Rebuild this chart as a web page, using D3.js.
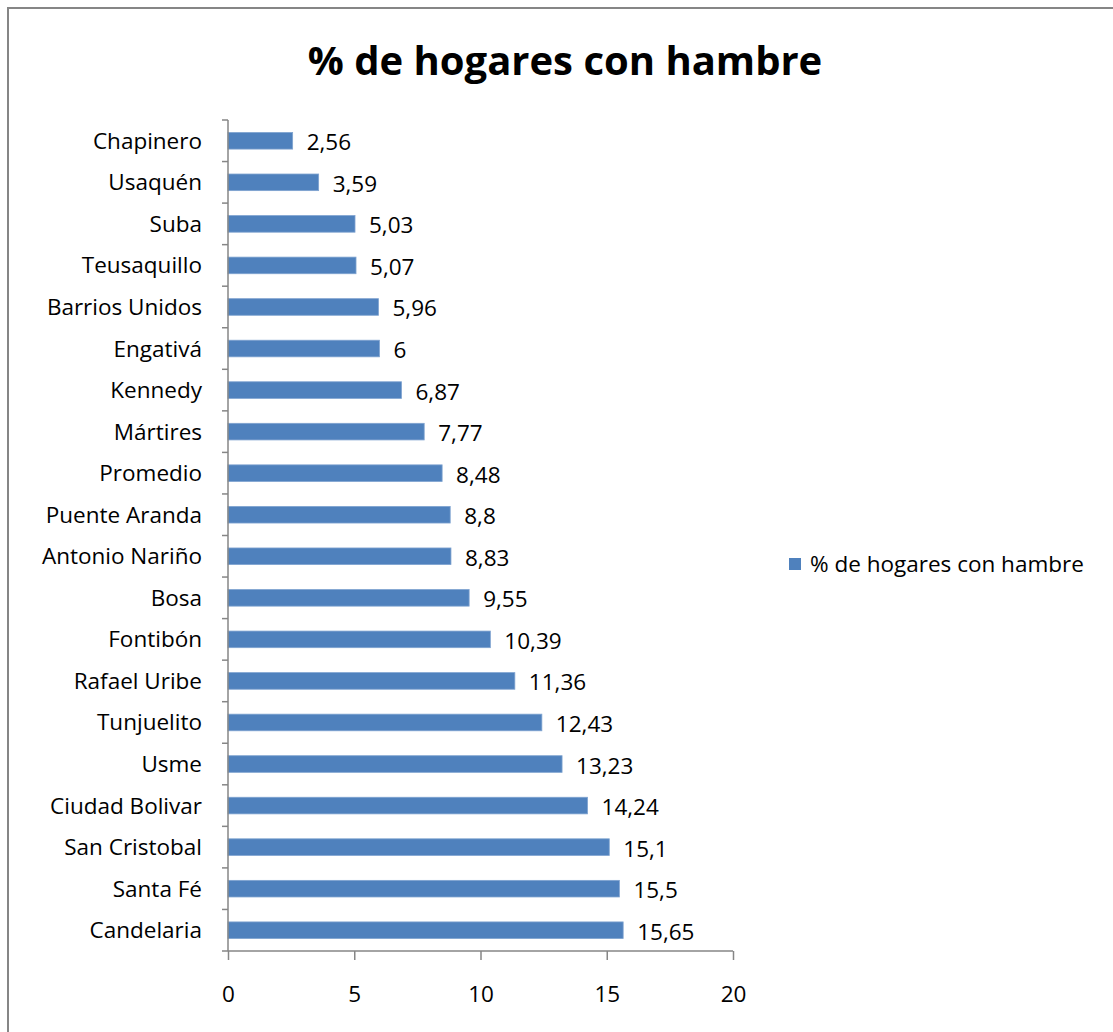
<!DOCTYPE html>
<html lang="es">
<head>
<meta charset="UTF-8">
<script src="https://d3js.org/d3.v7.min.js"></script>
<style>
  body { margin: 0; background: white; }
  svg { display: block; font-family: "Open Sans", sans-serif; }
</style>
</head>
<body>
<div id="chart"></div>
<script>
// datos
const barrios = ["Chapinero", "Usaquén", "Suba", "Teusaquillo", "Barrios Unidos", "Engativá",
  "Kennedy", "Mártires", "Promedio", "Puente Aranda", "Antonio Nariño", "Bosa", "Fontibón",
  "Rafael Uribe", "Tunjuelito", "Usme", "Ciudad Bolivar", "San Cristobal", "Santa Fé", "Candelaria"];
const valores = [2.56, 3.59, 5.03, 5.07, 5.96, 6, 6.87, 7.77, 8.48, 8.8, 8.83, 9.55, 10.39,
  11.36, 12.43, 13.23, 14.24, 15.1, 15.5, 15.65];
const ticksX = [0, 5, 10, 15, 20];
const titulo = "% de hogares con hambre";

const W = 1113, H = 1032;
const color = "#4F81BD";
const gris = "#868686";
const fs = "22.5px";

const svg = d3.select("#chart").append("svg")
  .attr("width", W).attr("height", H);

// marco
svg.append("rect")
  .attr("x", 8).attr("y", 8)
  .attr("width", W + 20).attr("height", H + 20)
  .attr("fill", "white")
  .attr("stroke", gris).attr("stroke-width", 2);

svg.append("text")
  .attr("x", 565).attr("y", 75)
  .attr("text-anchor", "middle")
  .style("font-size", "40px").style("font-weight", "bold")
  .text(titulo);

const x = d3.scaleLinear().domain([0, 20]).range([228, 733]);
const y = d3.scaleBand().domain(barrios).range([120, 951]).paddingInner(0.6).paddingOuter(0.3);

// barras
svg.selectAll("rect.bar")
  .data(barrios)
  .enter().append("rect")
  .attr("class", "bar")
  .attr("x", x(0))
  .attr("y", d => y(d))
  .attr("width", (d, i) => x(valores[i]) - x(0))
  .attr("height", y.bandwidth())
  .attr("fill", color)
  .attr("stroke", "#7FA3D0").attr("stroke-width", 0.8);

// etiquetas de datos
svg.selectAll("text.val")
  .data(barrios)
  .enter().append("text")
  .attr("class", "val")
  .attr("x", (d, i) => x(valores[i]) + 14)
  .attr("y", d => y(d) + y.bandwidth() / 2 + 9.5)
  .style("font-size", fs)
  .text((d, i) => String(valores[i]).replace(".", ","));

// eje y
const yTicks = d3.range(barrios.length + 1).map(i => 120 + i * (831 / barrios.length));
svg.append("line")
  .attr("x1", x(0)).attr("x2", x(0))
  .attr("y1", 120).attr("y2", 951)
  .attr("stroke", gris).attr("stroke-width", 1.5);
svg.selectAll("line.ytick")
  .data(yTicks)
  .enter().append("line")
  .attr("x1", x(0) - 6).attr("x2", x(0))
  .attr("y1", d => d).attr("y2", d => d)
  .attr("stroke", gris).attr("stroke-width", 1.5);
svg.selectAll("text.cat")
  .data(barrios)
  .enter().append("text")
  .attr("class", "cat")
  .attr("x", 202)
  .attr("y", d => y(d) + y.bandwidth() / 2 + 8)
  .attr("text-anchor", "end")
  .style("font-size", fs)
  .text(d => d);

// eje x
const gx = svg.append("g")
  .attr("transform", "translate(0,951)")
  .call(d3.axisBottom(x).tickValues(ticksX).tickSize(9).tickPadding(26));
gx.select(".domain").attr("stroke", gris).attr("stroke-width", 1.5).attr("d", `M${x(0)},0H${x(20)}`);
gx.selectAll(".tick line").attr("stroke", gris).attr("stroke-width", 1.5);
gx.selectAll(".tick text").style("font-size", fs).style("font-family", "'Open Sans', sans-serif").attr("fill", "black");

// leyenda
const ley = svg.append("g").attr("transform", "translate(789,558)");
ley.append("rect").attr("width", 12).attr("height", 12).attr("fill", color);
ley.append("text").attr("x", 21).attr("y", 14).style("font-size", fs).text(titulo);
</script>
</body>
</html>
